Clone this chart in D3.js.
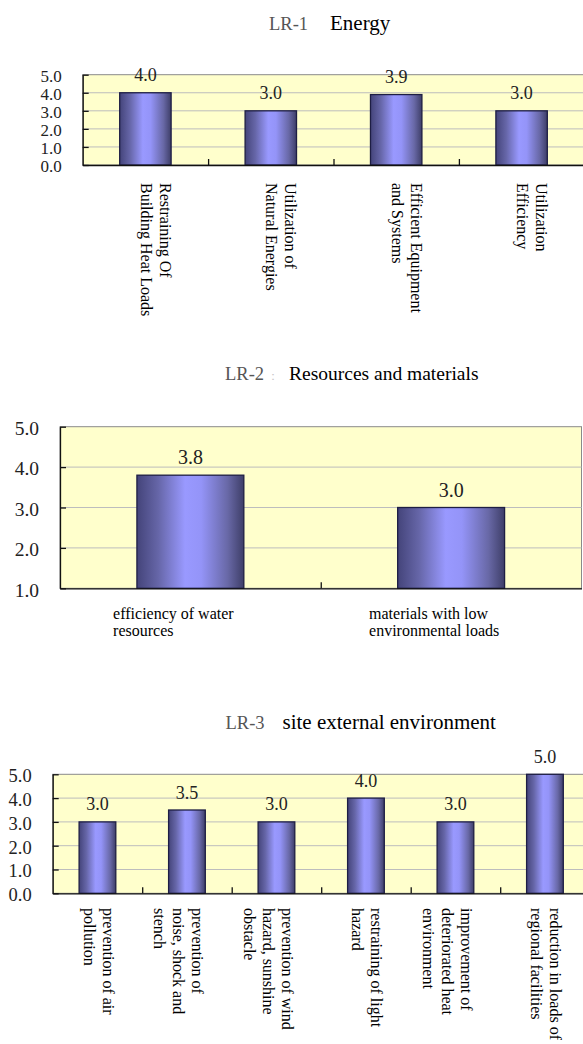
<!DOCTYPE html>
<html>
<head>
<meta charset="utf-8">
<script src="https://cdn.jsdelivr.net/npm/d3@7"></script>
<style>
  html, body { margin: 0; padding: 0; background: #fff; }
  svg { display: block; }
  text { font-family: "Liberation Serif", "Times New Roman", serif; }
</style>
</head>
<body>
<svg id="chart" width="583" height="1044"></svg>
<script>
// LR-1 Energy
const energyCategories = [
  ["Restraining Of", "Building Heat Loads"],
  ["Utilization of", "Natural Energies"],
  ["Efficient Equipment", "and Systems"],
  ["Utilization", "Efficiency"]
];
const energyValues = [4.0, 3.0, 3.9, 3.0];
const energyTicks = [0, 1, 2, 3, 4, 5];

// LR-2 Resources and materials
const resourceCategories = [
  ["efficiency of water", "resources"],
  ["materials with low", "environmental loads"]
];
const resourceValues = [3.8, 3.0];
const resourceTicks = [1, 2, 3, 4, 5];

// LR-3 site external environment
const siteCategories = [
  ["prevention of air", "pollution"],
  ["prevention of", "noise, shock and", "stench"],
  ["prevention of wind", "hazard, sunshine", "obstacle"],
  ["restraining of light", "hazard"],
  ["improvement of", "deteriorated heat", "environment"],
  ["reduction in loads of", "regional facilities"]
];
const siteValues = [3.0, 3.5, 3.0, 4.0, 3.0, 5.0];
const siteTicks = [0, 1, 2, 3, 4, 5];

const svg = d3.select("#chart");
const fmt = d3.format(".1f");

// shaded fill for the bars: dark edges, light centre
const defs = svg.append("defs");
const grad = defs.append("linearGradient")
  .attr("id", "barFill").attr("x1", 0).attr("x2", 1).attr("y1", 0).attr("y2", 0);
[[0, "#44447a"], [0.2, "#6666a8"], [0.45, "#9999ff"], [0.6, "#9494f8"], [0.85, "#6868a6"], [1, "#3e3e68"]]
  .forEach(([o, c]) => grad.append("stop").attr("offset", o).attr("stop-color", c));

function drawChart(cfg) {
  const g = svg.append("g");
  const n = cfg.values.length;
  const yMin = cfg.ticks[0], yMax = cfg.ticks[cfg.ticks.length - 1];

  const x = d3.scaleBand().domain(d3.range(n))
    .range([cfg.left, cfg.right]).paddingInner(0.59).paddingOuter(0.295);
  const edges = d3.scaleLinear().domain([0, n]).range([cfg.left, cfg.right]);
  const y = d3.scaleLinear().domain([yMin, yMax]).range([cfg.bottom, cfg.top]);

  // title
  const t = g.append("text").attr("y", cfg.titleY).attr("font-size", cfg.titleSize);
  t.append("tspan").attr("x", cfg.titleX[0]).attr("fill", "#555")
    .attr("font-size", 18.5).text(cfg.code);
  if (cfg.sep) {
    t.append("tspan").attr("x", cfg.sepX).attr("fill", "#c8c8c8")
      .attr("font-size", 12).text(cfg.sep);
  }
  t.append("tspan").attr("x", cfg.titleX[1]).attr("fill", "#000").text(cfg.title);

  // plot area
  g.append("rect")
    .attr("x", cfg.left).attr("y", cfg.top)
    .attr("width", cfg.right - cfg.left).attr("height", cfg.bottom - cfg.top)
    .attr("fill", "#ffffcc").attr("stroke", "#8a8a8a").attr("stroke-width", 1);

  // gridlines
  g.selectAll(null).data(cfg.ticks.filter(v => v > yMin && v < yMax)).join("line")
    .attr("x1", cfg.left).attr("x2", cfg.right)
    .attr("y1", d => y(d)).attr("y2", d => y(d))
    .attr("stroke", "#bdbdbd").attr("stroke-width", 1);

  // bars
  g.selectAll(null).data(cfg.values).join("rect")
    .attr("x", (d, i) => x(i)).attr("width", x.bandwidth())
    .attr("y", d => y(d)).attr("height", d => y(yMin) - y(d))
    .attr("fill", "url(#barFill)").attr("stroke", "#1e1e44").attr("stroke-width", 1.3);

  // value labels
  g.selectAll(null).data(cfg.values).join("text")
    .attr("x", (d, i) => x(i) + x.bandwidth() / 2)
    .attr("y", d => y(d) - cfg.valueGap)
    .attr("text-anchor", "middle").attr("font-size", cfg.valueSize).attr("fill", "#222")
    .text(d => fmt(d));

  // y axis
  const ya = g.append("g").attr("transform", `translate(${cfg.left},0)`)
    .call(d3.axisLeft(y).tickValues(cfg.ticks).tickFormat(fmt)
      .tickSize(-6).tickSizeOuter(0).tickPadding(cfg.tickPad));
  ya.select(".domain").attr("stroke", "#111").attr("stroke-width", 1.3);
  ya.selectAll(".tick line").attr("stroke", "#111").attr("stroke-width", 1.3);
  ya.selectAll(".tick text").attr("font-size", cfg.tickSize).attr("fill", "#222")
    .attr("dy", "0.4em");

  // x axis with category separators
  const xa = g.append("g").attr("transform", `translate(0,${cfg.bottom})`)
    .call(d3.axisBottom(edges).tickValues(d3.range(1, n)).tickFormat("")
      .tickSize(-6).tickSizeOuter(0));
  xa.select(".domain").attr("stroke", "#111").attr("stroke-width", 1.3);
  xa.selectAll(".tick line").attr("stroke", "#111").attr("stroke-width", 1.3);

  // category labels
  cfg.categories.forEach((lines, i) => {
    const cx = x(i) + x.bandwidth() / 2;
    if (cfg.rotate) {
      lines.forEach((line, k) => {
        g.append("text")
          .attr("transform", `translate(${cx + cfg.labelOffset - k * cfg.lineH},${cfg.labelTop}) rotate(90)`)
          .attr("dominant-baseline", "central")
          .attr("font-size", cfg.labelSize).attr("fill", "#000")
          .text(line);
      });
    } else {
      const block = g.append("g");
      const texts = lines.map((line, k) =>
        block.append("text").attr("y", cfg.labelTop + k * cfg.lineH)
          .attr("font-size", cfg.labelSize).attr("fill", "#000").text(line));
      const w = d3.max(texts, tx => tx.node().getComputedTextLength());
      texts.forEach(tx => tx.attr("x", cx + cfg.labelOffset - w / 2));
    }
  });
}

drawChart({
  code: "LR-1", title: "Energy", titleX: [269, 330], titleY: 29.5, titleSize: 21,
  categories: energyCategories, values: energyValues, ticks: energyTicks,
  left: 82.7, right: 584.3, top: 74.7, bottom: 165,
  tickSize: 17, tickPad: 21, valueSize: 18, valueGap: 12,
  rotate: true, labelTop: 183, labelOffset: 20, lineH: 19, labelSize: 16
});

drawChart({
  code: "LR-2", sep: "：", sepX: 267, title: "Resources and materials", titleX: [225, 289], titleY: 379.5, titleSize: 19.5,
  categories: resourceCategories, values: resourceValues, ticks: resourceTicks,
  left: 60, right: 581.5, top: 426.7, bottom: 588.3,
  tickSize: 19.5, tickPad: 21, valueSize: 20, valueGap: 11,
  rotate: false, labelTop: 618.5, labelOffset: -17, lineH: 17, labelSize: 16
});

drawChart({
  code: "LR-3", title: "site external environment", titleX: [225.5, 282.5], titleY: 729.3, titleSize: 21,
  categories: siteCategories, values: siteValues, ticks: siteTicks,
  left: 52.7, right: 589.7, top: 774.3, bottom: 893.3,
  tickSize: 18.5, tickPad: 21, valueSize: 18, valueGap: 11.5,
  rotate: true, labelTop: 908, labelOffset: 11, lineH: 19, labelSize: 16
});
</script>
</body>
</html>
